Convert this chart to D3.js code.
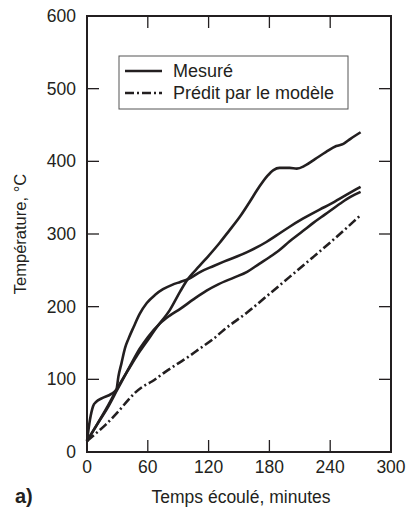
<!DOCTYPE html>
<html>
<head>
<meta charset="utf-8">
<script src="https://cdn.jsdelivr.net/npm/d3@7"></script>
<style>
  body { margin: 0; background: #fff; }
  text { font-family: "Liberation Sans", Arial, sans-serif; fill: #231f20; }
</style>
</head>
<body>
<svg id="chart"></svg>
<script>
const width = 409, height = 512,
  margin = {top: 16, right: 18, bottom: 60, left: 87},
  ink = '#231f20'

// values (minutes, °C)
const curveA = [[0,15],[10,38],[20,62],[30,88],[42,116],[50,134],[59,152],[69,172],[82,196],[92,221],[98,235],[111,256],[120,270],[131,288],[140,304],[151,324],[160,343],[170,365],[178,380],[184,388],[190,391],[200,391],[207,390],[215,394],[225,403],[236,413],[246,421],[253,424],[260,431],[270,440]]
const curveB = [[0,15],[3,45],[6,63],[9,69],[15,74],[24,80],[29,86],[31,104],[34,122],[37.5,143],[41,156],[46,172],[52,190],[59,205],[67,216],[75,224],[84,230],[92,234],[100,238],[112,248],[125,256],[135,262],[158,275],[177,289],[187,298],[200,310],[213,321],[230,334],[240,341],[255,353],[270,365]]
const curveC = [[0,15],[10,38],[20,60],[30,86],[42,117],[52,142],[60,158],[72,177],[82,188],[92,197],[105,210],[118,222],[130,231],[145,240],[158,248],[170,259],[180,268],[190,278],[200,290],[213,304],[223,315],[235,327],[250,342],[260,351],[270,358]]
const predicted = [[0,15],[10,27],[18,37],[31,56],[41,72],[47,81],[55,90],[64,97],[77,110],[90,122],[100,131],[112,143],[125,156],[135,168],[158,192],[177,214],[200,241],[223,268],[243,292],[263,317],[270,326]]
const measuredSeries = [curveA, curveB, curveC]

const xTicks = [0, 60, 120, 180, 240, 300]
const yTicks = [0, 100, 200, 300, 400, 500, 600]
const legendLabels = ['Mesuré', 'Prédit par le modèle']

const svg = d3.select('#chart').attr('width', width).attr('height', height)

const x = d3.scaleLinear().domain([0, 300]).range([margin.left, width - margin.right])
const y = d3.scaleLinear().domain([0, 600]).range([height - margin.bottom, margin.top])

const tickLen = 12

// frame
svg.append('rect')
  .attr('x', x(0)).attr('y', y(600))
  .attr('width', x(300) - x(0)).attr('height', y(0) - y(600))
  .attr('fill', 'none').attr('stroke', ink).attr('stroke-width', 2)

// inward ticks on all four sides
const innerX = xTicks.filter(d => d > 0 && d < 300)
const innerY = yTicks.filter(d => d > 0 && d < 600)
const ticks = svg.append('g').attr('stroke', ink).attr('stroke-width', 1.3)
innerX.forEach(d => {
  ticks.append('line').attr('x1', x(d)).attr('x2', x(d)).attr('y1', y(0)).attr('y2', y(0) - tickLen)
  ticks.append('line').attr('x1', x(d)).attr('x2', x(d)).attr('y1', y(600)).attr('y2', y(600) + tickLen)
})
innerY.forEach(d => {
  ticks.append('line').attr('x1', x(0)).attr('x2', x(0) + tickLen).attr('y1', y(d)).attr('y2', y(d))
  ticks.append('line').attr('x1', x(300)).attr('x2', x(300) - tickLen).attr('y1', y(d)).attr('y2', y(d))
})

// tick labels
svg.append('g').selectAll('text').data(xTicks).join('text')
  .attr('x', d => x(d)).attr('y', y(0) + 21)
  .attr('text-anchor', 'middle').attr('font-size', 17.5)
  .text(d => d)
svg.append('g').selectAll('text').data(yTicks).join('text')
  .attr('x', x(0) - 11).attr('y', d => y(d) + 6)
  .attr('text-anchor', 'end').attr('font-size', 17.5)
  .text(d => d)

// axis titles
svg.append('text')
  .attr('x', 241).attr('y', 503)
  .attr('text-anchor', 'middle').attr('font-size', 17.5)
  .text('Temps écoulé, minutes')
svg.append('text')
  .attr('transform', 'translate(26,234) rotate(-90)')
  .attr('text-anchor', 'middle').attr('font-size', 16.5)
  .text('Température, °C')
svg.append('text')
  .attr('x', 15).attr('y', 503)
  .attr('font-size', 20).attr('font-weight', 'bold')
  .text('a)')

// curves
const line = d3.line()
  .x(d => x(d[0]))
  .y(d => y(d[1]))
  .curve(d3.curveMonotoneX)

svg.append('g').selectAll('path').data(measuredSeries).join('path')
  .attr('d', line)
  .attr('fill', 'none').attr('stroke', ink).attr('stroke-width', 2.6)

svg.append('path')
  .attr('d', line(predicted))
  .attr('fill', 'none').attr('stroke', ink).attr('stroke-width', 2.6)
  .attr('stroke-dasharray', '9,3,2,3')

// legend
const legend = svg.append('g')
legend.append('rect')
  .attr('x', 119).attr('y', 56).attr('width', 229).attr('height', 53)
  .attr('fill', '#fff').attr('stroke', '#555').attr('stroke-width', 1)
legendLabels.forEach((label, i) => {
  const ly = 71 + i * 22
  legend.append('line')
    .attr('x1', 125).attr('x2', 162).attr('y1', ly).attr('y2', ly)
    .attr('stroke', ink).attr('stroke-width', 2.6)
    .attr('stroke-dasharray', i === 0 ? null : '9,3,2,3')
  legend.append('text')
    .attr('x', 173).attr('y', ly + 6)
    .attr('font-size', 18)
    .text(label)
})
</script>
</body>
</html>
